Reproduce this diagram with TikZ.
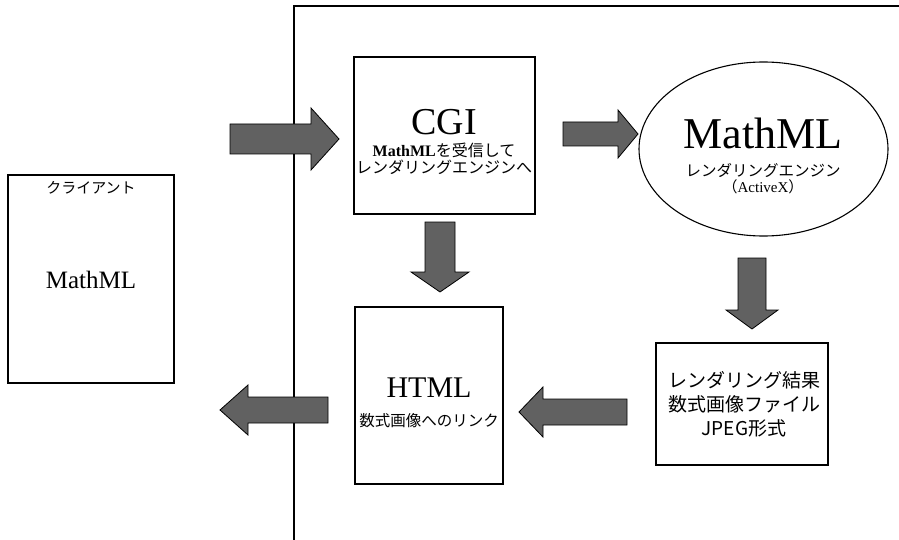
\documentclass[tikz,border=0pt]{standalone}
\usepackage{fontspec}
\setmainfont{Liberation Serif}
\newfontfamily\jp{Noto Sans CJK JP}
\usetikzlibrary{calc,shapes.geometric}
\tikzset{
  boxnode/.style={draw=black, line width=1.1pt, rectangle, inner sep=0pt},
  ellnode/.style={draw=black, line width=1.1pt, ellipse, inner sep=0pt},
  txt/.style={inner sep=0pt, anchor=center},
  blockarrow/.style={draw=black, line width=0.8pt, fill=black!62, line join=miter},
  frame/.style={draw=black, line width=1.3pt}
}
\newcommand\blockarr[5]{%
  \coordinate (#1-h) at ($(#2)!#5!(#1)$);
  \draw[blockarrow] ($(#1)!#3!90:(#2)$) -- ($(#1-h)!#3!90:(#2)$) -- ($(#1-h)!#4!90:(#2)$) -- (#2)
    -- ($(#1-h)!#4!-90:(#2)$) -- ($(#1-h)!#3!-90:(#2)$) -- ($(#1)!#3!-90:(#2)$) -- cycle;}
\begin{document}
\begin{tikzpicture}[x=1pt,y=-1pt]
\useasboundingbox (0,0) rectangle (899,540);
% frame
\coordinate (fr-bl) at (294,540);
\coordinate (fr-tl) at (294,6);
\coordinate (fr-tr) at (899,6);
\draw[frame] (fr-bl) -- (fr-tl) -- (fr-tr);
% boxes
\node[boxnode, minimum width=166pt, minimum height=208pt] (client) at (91,279) {};
\node[boxnode, minimum width=181pt, minimum height=157pt] (cgi) at (444.5,135.5) {};
\node[ellnode, minimum width=249pt, minimum height=174pt] (engine) at (763.5,149) {};
\node[boxnode, minimum width=172pt, minimum height=122pt] (result) at (742,404) {};
\node[boxnode, minimum width=148pt, minimum height=177pt] (html) at (429,395.5) {};
% texts
\node[txt] (client-t1) at (91,188) {\jp\fontsize{15}{15}\selectfont クライアント};
\node[txt] (client-t2) at (91,280) {\fontsize{25}{25}\selectfont MathML};
\node[txt] (cgi-t1) at (444,122) {\fontsize{38}{38}\selectfont CGI};
\node[txt] (cgi-t2) at (444,150) {\fontsize{16}{16}\selectfont\textbf{MathML}\jp を受信して};
\node[txt] (cgi-t3) at (444,167) {\jp\fontsize{16}{16}\selectfont レンダリングエンジンへ};
\node[txt] (eng-t1) at (763,133) {\fontsize{44}{44}\selectfont MathML};
\node[txt] (eng-t2) at (763,170) {\jp\fontsize{15.5}{15.5}\selectfont レンダリングエンジン};
\node[txt] (eng-t3) at (763,187) {\fontsize{15}{15}\selectfont{\jp （}ActiveX{\jp ）}};
\node[txt] (html-t1) at (429,388) {\fontsize{30}{30}\selectfont HTML};
\node[txt] (html-t2) at (429,421) {\jp\fontsize{15.5}{15.5}\selectfont 数式画像へのリンク};
\node[txt] (res-t1) at (744,380) {\jp\fontsize{19}{19}\selectfont レンダリング結果};
\node[txt] (res-t2) at (744,404) {\jp\fontsize{19}{19}\selectfont 数式画像ファイル};
\node[txt] (res-t3) at (744,428) {\jp\fontsize{19}{19}\selectfont JPEG形式};
% arrow end points
\coordinate (a1s) at (230,139); \coordinate (a1e) at (339,139);
\coordinate (a2s) at (563,134); \coordinate (a2e) at (638,134);
\coordinate (a3s) at (752,258); \coordinate (a3e) at (752,329);
\coordinate (a4s) at (627,412); \coordinate (a4e) at (519,412);
\coordinate (a5s) at (440,222); \coordinate (a5e) at (440,292);
\coordinate (a6s) at (328,410); \coordinate (a6e) at (220,410);
\blockarr{a1s}{a1e}{15pt}{31pt}{28pt}
\blockarr{a2s}{a2e}{12pt}{24pt}{20pt}
\blockarr{a3s}{a3e}{14pt}{26pt}{19pt}
\blockarr{a4s}{a4e}{13pt}{25pt}{24pt}
\blockarr{a5s}{a5e}{15pt}{29pt}{20pt}
\blockarr{a6s}{a6e}{13pt}{25pt}{28pt}
\end{tikzpicture}
\end{document}
